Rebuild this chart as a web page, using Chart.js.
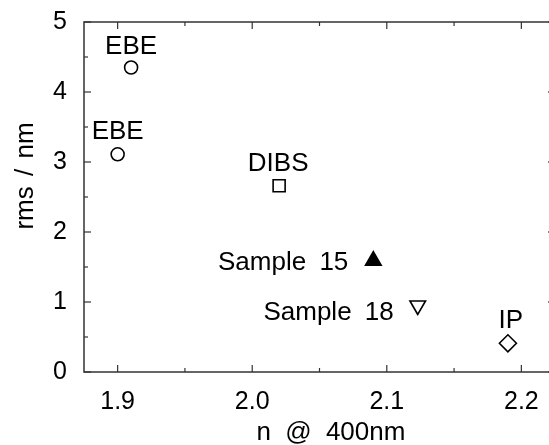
<!DOCTYPE html>
<html>
<head>
<meta charset="utf-8">
<script src="https://cdn.jsdelivr.net/npm/chart.js@4.4.0/dist/chart.umd.min.js"></script>
<style>
  html, body { margin: 0; padding: 0; background: #fff; overflow: hidden; }
</style>
</head>
<body>
<canvas id="myChart" width="556" height="445"></canvas>
<script>
// data
const names = ['EBE', 'EBE', 'DIBS', 'Sample 15', 'Sample 18', 'IP'];
const nValues = [1.91, 1.90, 2.02, 2.09, 2.123, 2.19];
const rmsValues = [4.35, 3.11, 2.66, 1.59, 0.95, 0.41];
const xTicks = [1.9, 2.0, 2.1, 2.2];
const yTicks = [0, 1, 2, 3, 4, 5];

// marker look, one entry per point
const shapes = ['circle', 'circle', 'rect', 'triangle', 'triangle', 'rectRot'];
const radii = [6.5, 6.5, 8.5, 9, 9, 8.5];
const rotations = [0, 0, 0, 0, 180, 0];
const fills = ['#fff', '#fff', '#fff', '#000', '#fff', '#fff'];

// where each name sits around its marker
const labelPos = [
  { align: 'center', dx: 0, dy: -14 },
  { align: 'center', dx: 0, dy: -15 },
  { align: 'center', dx: -1, dy: -15 },
  { align: 'right', dx: -25, dy: 9 },
  { align: 'right', dx: -24, dy: 14.5 },
  { align: 'center', dx: 3, dy: -15 }
];

const FONT = "'Liberation Sans', Arial, sans-serif";
const AXIS = '#333';

const frame = {
  id: 'frame',
  afterDatasetsDraw(chart) {
    const ctx = chart.ctx;
    const a = chart.chartArea;
    const xs = chart.scales.x, ys = chart.scales.y;
    ctx.save();
    ctx.strokeStyle = AXIS;
    ctx.lineWidth = 1.5;
    ctx.strokeRect(a.left, a.top, a.right - a.left, a.bottom - a.top);

    const tick = (x1, y1, x2, y2) => {
      ctx.beginPath(); ctx.moveTo(x1, y1); ctx.lineTo(x2, y2); ctx.stroke();
    };
    ctx.lineWidth = 1.2;
    // x ticks, major + halfway minor, bottom and top, pointing in
    xTicks.forEach((v, i) => {
      const px = xs.getPixelForValue(v);
      tick(px, a.bottom, px, a.bottom - 7);
      tick(px, a.top, px, a.top + 7);
      if (i < xTicks.length - 1) {
        const mx = xs.getPixelForValue((v + xTicks[i + 1]) / 2);
        tick(mx, a.bottom, mx, a.bottom - 4);
        tick(mx, a.top, mx, a.top + 4);
      }
    });
    yTicks.forEach((v, i) => {
      const py = ys.getPixelForValue(v);
      tick(a.left, py, a.left + 7, py);
      tick(a.right, py, a.right - 7, py);
      if (i < yTicks.length - 1) {
        const my = ys.getPixelForValue((v + yTicks[i + 1]) / 2);
        tick(a.left, my, a.left + 4, my);
        tick(a.right, my, a.right - 4, my);
      }
    });

    // point names
    ctx.fillStyle = '#000';
    ctx.font = '26px ' + FONT;
    ctx.wordSpacing = '6px';
    ctx.textBaseline = 'alphabetic';
    names.forEach((t, i) => {
      const p = labelPos[i];
      ctx.textAlign = p.align;
      ctx.fillText(t, xs.getPixelForValue(nValues[i]) + p.dx, ys.getPixelForValue(rmsValues[i]) + p.dy);
    });

    // axis titles
    ctx.textAlign = 'center';
    ctx.wordSpacing = '7px';
    ctx.fillText('n @ 400nm', 331, 440);
    ctx.wordSpacing = '3px';
    ctx.translate(33, 176);
    ctx.rotate(-Math.PI / 2);
    ctx.fillText('rms / nm', 0, 0);
    ctx.restore();
  }
};

new Chart(document.getElementById('myChart'), {
  type: 'scatter',
  data: {
    datasets: [{
      data: nValues.map((n, i) => ({ x: n, y: rmsValues[i] })),
      pointStyle: shapes,
      pointRadius: radii,
      pointRotation: rotations,
      pointBackgroundColor: fills,
      pointBorderColor: '#000',
      pointBorderWidth: 1.6
    }]
  },
  options: {
    responsive: false,
    animation: false,
    layout: { autoPadding: false, padding: { top: 22, right: 1, left: 0, bottom: 0 } },
    plugins: { legend: { display: false }, tooltip: { enabled: false } },
    scales: {
      x: {
        type: 'linear',
        min: 1.875,
        max: 2.225,
        afterBuildTicks: s => { s.ticks = xTicks.map(v => ({ value: v })); },
        afterFit: s => { s.height = 73; s.paddingLeft = 0; s.paddingRight = 0; },
        grid: { display: false },
        border: { display: false },
        ticks: {
          color: '#000',
          padding: 7,
          maxRotation: 0,
          font: { family: FONT, size: 25 },
          callback: v => v.toFixed(1)
        }
      },
      y: {
        min: 0,
        max: 5,
        afterBuildTicks: s => { s.ticks = yTicks.map(v => ({ value: v })); },
        afterFit: s => { s.width = 84; s.paddingTop = 0; s.paddingBottom = 0; },
        grid: { display: false },
        border: { display: false },
        ticks: {
          color: '#000',
          padding: 9,
          font: { family: FONT, size: 25 },
          callback: v => String(v)
        }
      }
    }
  },
  plugins: [frame]
});
</script>
</body>
</html>
